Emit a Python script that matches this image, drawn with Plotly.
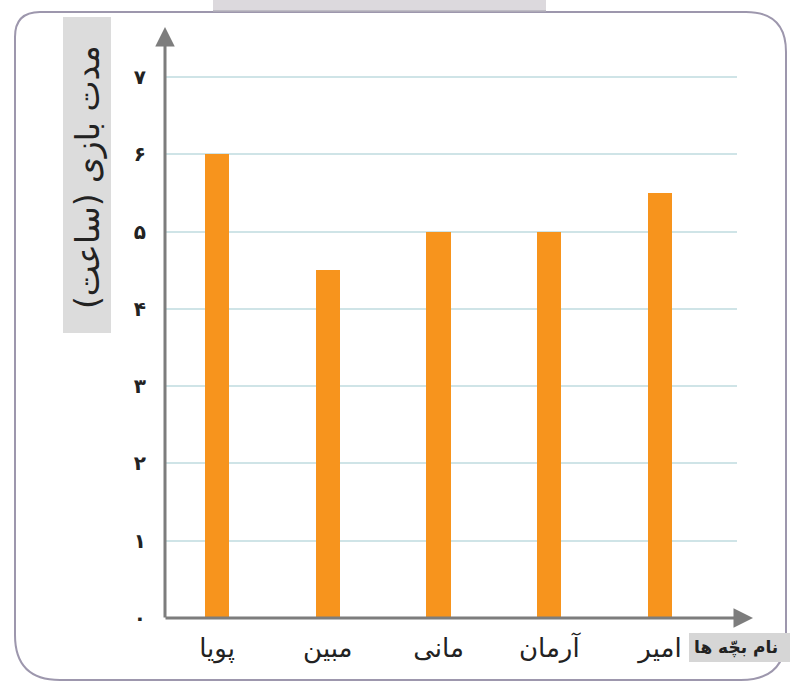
import plotly.graph_objects as go

names = ["پویا", "مبین", "مانی", "آرمان", "امیر"]
hours = [6, 4.5, 5, 5, 5.5]
ytick_vals = [0, 1, 2, 3, 4, 5, 6, 7]
ytick_text = ["۰", "۱", "۲", "۳", "۴", "۵", "۶", "۷"]
y_title = "مدت بازی (ساعت)"
x_title = "نام بچّه ها"

W, H = 790, 683
L, R, T, B = 165, 53, 30, 65
PW, PH = W - L - R, H - T - B

def px(x):
    return (x - L) / PW

def py(y):
    return 1 - (y - T) / PH

FONT = "DejaVu Sans"
RLM = "\u200F"

fig = go.Figure()
fig.add_trace(go.Bar(
    x=names, y=hours, width=0.22,
    marker=dict(color="#F7941D", line=dict(width=0)),
    hoverinfo="skip",
))

def rounded_rect(x0, y0, x1, y1, r_tl, r_tr, r_br, r_bl):
    pts = []
    pts.append(f"M {px(x0 + r_tl)},{py(y0)}")
    pts.append(f"L {px(x1 - r_tr)},{py(y0)}")
    pts.append(f"Q {px(x1)},{py(y0)} {px(x1)},{py(y0 + r_tr)}")
    pts.append(f"L {px(x1)},{py(y1 - r_br)}")
    pts.append(f"Q {px(x1)},{py(y1)} {px(x1 - r_br)},{py(y1)}")
    pts.append(f"L {px(x0 + r_bl)},{py(y1)}")
    pts.append(f"Q {px(x0)},{py(y1)} {px(x0)},{py(y1 - r_bl)}")
    pts.append(f"L {px(x0)},{py(y0 + r_tl)}")
    pts.append(f"Q {px(x0)},{py(y0)} {px(x0 + r_tl)},{py(y0)}")
    pts.append("Z")
    return " ".join(pts)

shapes = [
    dict(type="path", xref="paper", yref="paper",
         path=rounded_rect(15, 12, 786, 680, 25, 40, 45, 45),
         line=dict(color="#9d97ad", width=2), fillcolor="rgba(0,0,0,0)", layer="below"),
    dict(type="rect", xref="paper", yref="paper",
         x0=px(213), x1=px(546), y0=py(11), y1=py(-5),
         line=dict(width=0), fillcolor="#dcd9dd", layer="below"),
    dict(type="line", xref="paper", yref="paper",
         x0=px(213), x1=px(546), y0=py(11), y1=py(11),
         line=dict(width=1.5, color="#b5b0bb"), layer="below"),
    dict(type="rect", xref="paper", yref="paper",
         x0=px(63), x1=px(111), y0=py(333), y1=py(17),
         line=dict(width=0), fillcolor="#dcdcdc", layer="below"),
    dict(type="rect", xref="paper", yref="paper",
         x0=px(689), x1=px(792), y0=py(662), y1=py(633),
         line=dict(width=0), fillcolor="#d6d6d6", layer="below"),
]

annotations = [
    dict(x=px(165), y=py(27), xref="paper", yref="paper", text="", showarrow=True,
         ax=0, ay=592, axref="pixel", ayref="pixel", arrowhead=2, arrowsize=1.3,
         arrowwidth=3, arrowcolor="#7d7d7d"),
    dict(x=px(753), y=py(618), xref="paper", yref="paper", text="", showarrow=True,
         ax=-589, ay=0, axref="pixel", ayref="pixel", arrowhead=2, arrowsize=1.3,
         arrowwidth=3, arrowcolor="#7d7d7d"),
    dict(x=px(87), y=py(177), xref="paper", yref="paper", text=RLM + y_title + RLM,
         textangle=-90, xanchor="center", yanchor="middle",
         showarrow=False, font=dict(family=FONT, size=33, color="#222")),
    dict(x=px(692), y=py(647), xref="paper", yref="paper", text="<b>" + x_title + "</b>",
         showarrow=False, xanchor="left", yanchor="middle",
         font=dict(family=FONT, size=17, color="#222")),
]

fig.update_layout(
    width=W, height=H,
    margin=dict(l=L, r=R, t=T, b=B),
    paper_bgcolor="white", plot_bgcolor="white",
    showlegend=False,
    shapes=shapes, annotations=annotations,
    bargap=0,
    xaxis=dict(
        type="category", range=[-0.47, 4.695], showgrid=False, zeroline=False,
        showline=False, ticks="", ticklabelstandoff=12,
        tickfont=dict(family=FONT, size=26, color="#222"),
        fixedrange=True,
    ),
    yaxis=dict(
        range=[0, 7.61], tickvals=ytick_vals, ticktext=ytick_text,
        showgrid=True, gridcolor="#cfe4e7", gridwidth=1.5, zeroline=False,
        showline=False, ticks="", ticklabelstandoff=18,
        tickfont=dict(family=FONT, size=20, color="#222", weight="bold"),
        fixedrange=True,
    ),
)

fig.write_html("out.html", config={"displayModeBar": False},
               post_script="document.body.style.margin='0';document.body.style.overflow='hidden';")
